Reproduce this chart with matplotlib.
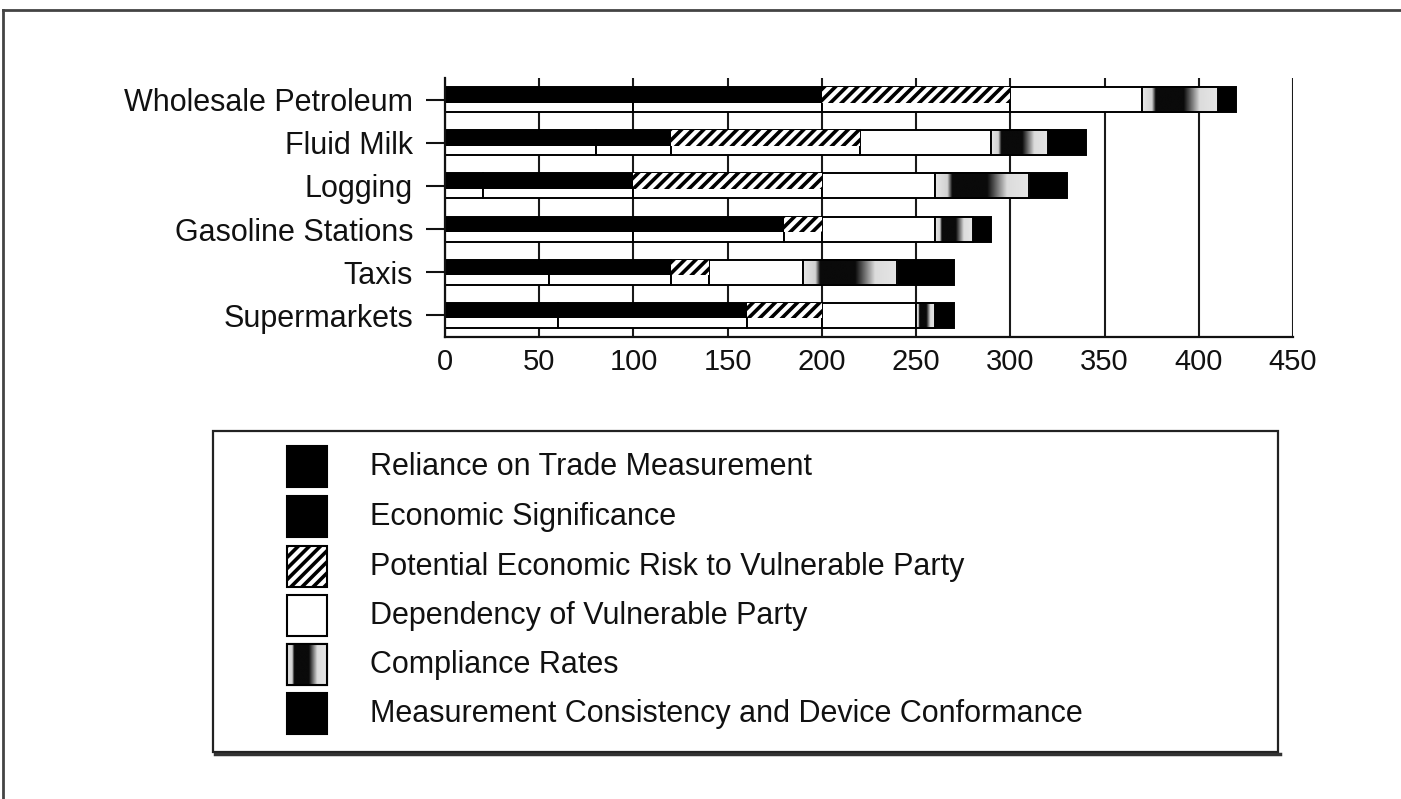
import numpy as np
import matplotlib
matplotlib.use("Agg")
import matplotlib.pyplot as plt
from matplotlib.patches import Rectangle
from matplotlib.lines import Line2D

# Industries, top to bottom
categories = ["Wholesale Petroleum", "Fluid Milk", "Logging",
              "Gasoline Stations", "Taxis", "Supermarkets"]

# Scores for each criterion (stacked left to right)
reliance = [100, 80, 20, 100, 55, 60]
economic = [100, 40, 80, 80, 65, 100]
risk = [100, 100, 100, 20, 20, 40]
dependency = [70, 70, 60, 60, 50, 50]
compliance = [40, 30, 50, 20, 50, 10]
consistency = [10, 20, 20, 10, 30, 10]

series_names = ["Reliance on Trade Measurement",
                "Economic Significance",
                "Potential Economic Risk to Vulnerable Party",
                "Dependency of Vulnerable Party",
                "Compliance Rates",
                "Measurement Consistency and Device Conformance"]
series_values = [reliance, economic, risk, dependency, compliance, consistency]

xticks = [0, 50, 100, 150, 200, 250, 300, 350, 400, 450]

plt.rcParams["font.family"] = ["Liberation Sans", "DejaVu Sans"]
plt.rcParams["hatch.linewidth"] = 2.6

W, H = 1401, 799
fig = plt.figure(figsize=(W / 100, H / 100), dpi=100)
fig.patch.set_facecolor("white")


def fx(px):
    return px / W


def fy(py):
    return 1 - py / H


ax = fig.add_axes([fx(445), fy(337), fx(1293 - 445), (337 - 78) / H])

# shading profile of the "compliance" fill: light edge, dark core, fading out
grad_pos = [0.0, 0.13, 0.18, 0.55, 0.76, 1.0]
grad_val = [0.90, 0.82, 0.04, 0.04, 0.86, 0.90]
grad = np.interp(np.linspace(0, 1, 256), grad_pos, grad_val)[None, :]

y = np.arange(len(categories))
h = 0.58
top_frac = 0.62
lw = 1.4
left = np.zeros(len(categories))

for k, vals in enumerate(series_values):
    vals = np.asarray(vals, dtype=float)
    face = "black" if k == 5 else "white"
    bars = ax.barh(y, vals, left=left, height=h, color=face,
                   edgecolor="black", linewidth=lw, zorder=3)
    if k in (0, 1):
        ax.barh(y - h / 2, vals, left=left, height=h * top_frac, align="edge",
                color="black", linewidth=0, zorder=4)
    elif k == 2:
        ax.barh(y - h / 2, vals, left=left, height=h * top_frac, align="edge",
                facecolor="white", edgecolor="black", hatch="///",
                linewidth=0, zorder=4)
    elif k == 4:
        for rect in bars.patches:
            x0, y0 = rect.get_xy()
            w, hh = rect.get_width(), rect.get_height()
            im = ax.imshow(grad, cmap="gray", vmin=0, vmax=1, aspect="auto",
                           extent=[x0, x0 + w, y0 + hh, y0],
                           interpolation="bilinear", zorder=4)
            im.set_clip_path(rect)
            ax.add_patch(Rectangle((x0, y0), w, hh, fill=False,
                                   edgecolor="black", linewidth=lw, zorder=5))
    left += vals

ax.set_xlim(0, 450)
ax.set_ylim(len(categories) - 0.5, -0.5)
ax.set_xticks(xticks)
ax.set_xticklabels([str(t) for t in xticks])
ax.set_yticks(y)
ax.set_yticklabels(categories)
ax.xaxis.grid(True, color="#1a1a1a", linewidth=1.5, zorder=6)
ax.set_axisbelow(False)
for gl in ax.get_xgridlines():
    gl.set_zorder(6)
ax.tick_params(axis="x", length=0, pad=8, labelsize=21, colors="#111111")
ax.tick_params(axis="y", length=14, width=1.5, pad=9, labelsize=22,
               colors="#111111")
for s in ("top", "right"):
    ax.spines[s].set_visible(False)
for s in ("left", "bottom"):
    ax.spines[s].set_linewidth(1.6)
    ax.spines[s].set_color("#111111")
    ax.spines[s].set_zorder(7)

# legend panel
lx0, lx1, ly0, ly1 = 212, 1279, 430, 753
lax = fig.add_axes([fx(lx0), fy(ly1), fx(lx1 - lx0), (ly1 - ly0) / H])
lax.set_xlim(lx0, lx1)
lax.set_ylim(ly1, ly0)
lax.axis("off")
lax.add_patch(Rectangle((lx0 + 1, ly0 + 1), lx1 - lx0 - 2, ly1 - ly0 - 2,
                        fill=False, edgecolor="#222222", linewidth=1.6,
                        clip_on=False))
lax.add_line(Line2D([lx0 + 3, lx1 + 1], [ly1 + 1, ly1 + 1], color="#333333",
                    linewidth=2.5, clip_on=False))

row_y = [467, 517, 567, 616, 665, 714]
sw_x0, sw_w, sw_h = 287, 40, 41
for k, name in enumerate(series_names):
    cy = row_y[k]
    y0 = cy - sw_h / 2
    if k == 2:
        lax.add_patch(Rectangle((sw_x0, y0), sw_w, sw_h, facecolor="white",
                                edgecolor="black", hatch="///", linewidth=1.5))
    elif k == 3:
        lax.add_patch(Rectangle((sw_x0, y0), sw_w, sw_h, facecolor="white",
                                edgecolor="black", linewidth=1.5))
    elif k == 4:
        r = Rectangle((sw_x0, y0), sw_w, sw_h, facecolor="white",
                      edgecolor="black", linewidth=1.5)
        lax.add_patch(r)
        im = lax.imshow(grad, cmap="gray", vmin=0, vmax=1, aspect="auto",
                        extent=[sw_x0, sw_x0 + sw_w, y0 + sw_h, y0],
                        interpolation="bilinear", zorder=2)
        im.set_clip_path(r)
        lax.add_patch(Rectangle((sw_x0, y0), sw_w, sw_h, fill=False,
                                edgecolor="black", linewidth=1.5, zorder=3))
    else:
        lax.add_patch(Rectangle((sw_x0, y0), sw_w, sw_h, facecolor="black",
                                edgecolor="black", linewidth=1.5))
    lax.text(370, cy, name, fontsize=22, va="center", ha="left",
             color="#111111")
lax.set_xlim(lx0, lx1)
lax.set_ylim(ly1, ly0)

# page frame (top and left edges)
fig.add_artist(Line2D([fx(3), 1], [fy(10), fy(10)], color="#444444",
                      linewidth=2))
fig.add_artist(Line2D([fx(3), fx(3)], [fy(10), 0], color="#444444",
                      linewidth=2))

fig.savefig("out.png", dpi=100, facecolor="white")
